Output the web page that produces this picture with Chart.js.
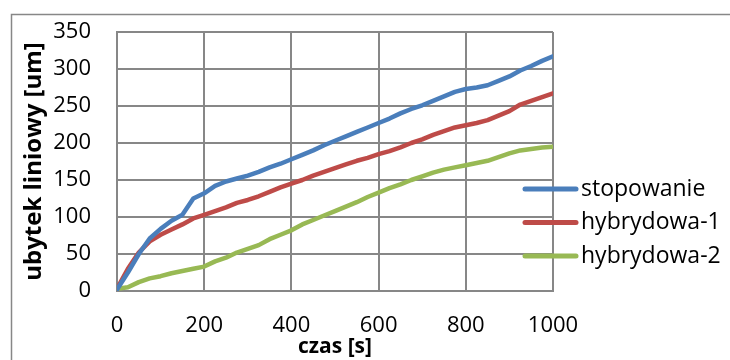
<!DOCTYPE html>
<html>
<head>
<meta charset="utf-8">
<script src="https://cdn.jsdelivr.net/npm/chart.js@4"></script>
<style>
  html, body { margin: 0; padding: 0; background: #fff; }
  #wrap { width: 730px; height: 360px; }
</style>
</head>
<body>
<div id="wrap"><canvas id="chart" width="730" height="360"></canvas></div>
<script>
// czas [s]
const czas = [0, 25, 50, 75, 100, 125, 150, 175, 200, 225, 250, 275, 300, 325, 350, 375, 400,
    425, 450, 475, 500, 525, 550, 575, 600, 625, 650, 675, 700, 725, 750, 775, 800,
    825, 850, 875, 900, 925, 950, 975, 1000];

// ubytek liniowy [um]
const stopowanie = [2, 25, 50, 71, 84, 95, 103, 125, 132, 142, 148, 152, 156, 161, 167, 172, 178,
    184, 190, 197, 203, 209, 215, 221, 227, 233, 240, 246, 251, 257, 263, 269, 273,
    275, 278, 284, 290, 298, 304, 311, 317];
const hybrydowa1 = [3, 30, 52, 67, 76, 83, 90, 98, 103, 108, 113, 119, 123, 128, 134, 140, 145,
    150, 156, 161, 166, 171, 176, 180, 185, 189, 194, 200, 205, 211, 216, 221, 224,
    227, 231, 237, 243, 252, 257, 262, 267];
const hybrydowa2 = [3, 5, 12, 17, 20, 24, 27, 30, 33, 40, 45, 52, 57, 62, 70, 76, 82,
    90, 96, 102, 108, 114, 120, 127, 133, 139, 144, 150, 155, 160, 164, 167, 170,
    173, 176, 181, 186, 190, 192, 194, 195];

const seriesNames = ['stopowanie', 'hybrydowa-1', 'hybrydowa-2'];
const seriesColors = ['#4A7EBB', '#BE4B48', '#98B954'];

const FONT = '"Open Sans", "Liberation Sans", sans-serif';
const GRID = '#878787';

function toPoints(ys) {
    return czas.map((x, i) => ({ x: x, y: ys[i] }));
}

// obramowanie wykresu i legenda (rysowane recznie, jak w Excelu)
const excelLook = {
    id: 'excelLook',
    beforeDraw(chart) {
        const ctx = chart.ctx;
        ctx.save();
        ctx.fillStyle = '#fff';
        ctx.fillRect(0, 0, chart.width, chart.height);
        ctx.strokeStyle = GRID;
        ctx.lineWidth = 1.5;
        ctx.strokeRect(11.5, 14.5, chart.width + 10, chart.height + 10);
        ctx.restore();
    },
    afterDraw(chart) {
        const ctx = chart.ctx;
        ctx.save();
        ctx.font = '23px ' + FONT;
        ctx.textBaseline = 'middle';
        chart.data.datasets.forEach((ds, i) => {
            const y = 189 + i * 33.5;
            ctx.strokeStyle = ds.borderColor;
            ctx.lineWidth = 5;
            ctx.lineCap = 'round';
            ctx.beginPath();
            ctx.moveTo(525, y);
            ctx.lineTo(576, y);
            ctx.stroke();
            ctx.fillStyle = '#000';
            ctx.fillText(ds.label, 581, y);
        });
        ctx.restore();
    }
};

new Chart(document.getElementById('chart'), {
    type: 'line',
    data: {
        datasets: [
            { label: seriesNames[0], data: toPoints(stopowanie), borderColor: seriesColors[0] },
            { label: seriesNames[1], data: toPoints(hybrydowa1), borderColor: seriesColors[1] },
            { label: seriesNames[2], data: toPoints(hybrydowa2), borderColor: seriesColors[2] }
        ]
    },
    options: {
        responsive: false,
        animation: false,
        devicePixelRatio: 1,
        elements: {
            line: { borderWidth: 4.5, tension: 0, borderCapStyle: 'round', borderJoinStyle: 'round' },
            point: { radius: 0 }
        },
        layout: { padding: { left: 13, right: 177, top: 32, bottom: 0 } },
        plugins: {
            legend: { display: false },
            tooltip: { enabled: false }
        },
        scales: {
            x: {
                type: 'linear',
                min: 0,
                max: 1000,
                afterFit(scale) { scale.height = 69; },
                ticks: {
                    stepSize: 200, padding: 22, color: '#000',
                    font: { family: FONT, size: 22 },
                    callback: (v) => String(v)
                },
                grid: { color: GRID, lineWidth: 2, drawTicks: false },
                border: { color: GRID, width: 2 },
                title: {
                    display: true,
                    text: 'czas [s]',
                    color: '#000',
                    font: { family: FONT, size: 21, weight: 'bold' },
                    padding: { top: 0, bottom: 0 }
                }
            },
            y: {
                min: 0,
                max: 350,
                afterFit(scale) {
                    scale.width = 104;
                    scale.paddingTop = 0;
                    scale.paddingBottom = 0;
                },
                ticks: {
                    stepSize: 50, padding: 26, color: '#000',
                    font: { family: FONT, size: 22 },
                    callback: (v) => String(v)
                },
                grid: { color: GRID, lineWidth: 2, drawTicks: false },
                border: { color: GRID, width: 2 },
                title: {
                    display: true,
                    text: 'ubytek liniowy [um]',
                    color: '#000',
                    font: { family: FONT, size: 24, weight: 'bold' },
                    padding: { top: 7, bottom: 0 }
                }
            }
        }
    },
    plugins: [excelLook]
});
</script>
</body>
</html>
